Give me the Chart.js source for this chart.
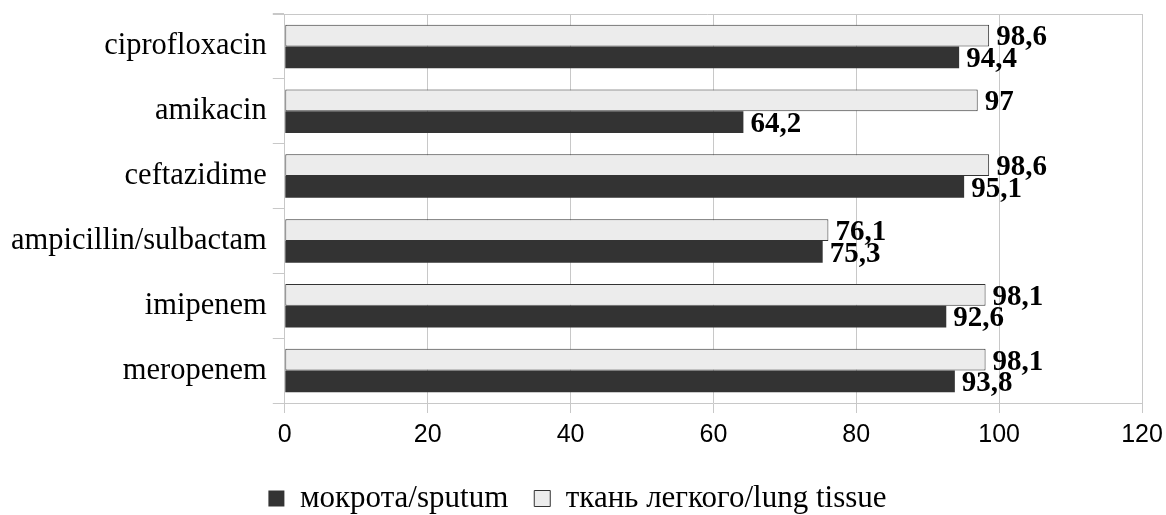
<!DOCTYPE html>
<html>
<head>
<meta charset="utf-8">
<script src="https://cdn.jsdelivr.net/npm/chart.js@4"></script>
<style>
  html, body { margin: 0; padding: 0; background: #fff; }
  #wrap { width: 1166px; height: 515px; }
</style>
</head>
<body>
<div id="wrap"><canvas id="chart" width="1166" height="515"></canvas></div>
<script>
const drugs = ['ciprofloxacin', 'amikacin', 'ceftazidime', 'ampicillin/sulbactam', 'imipenem', 'meropenem'];
const sputum = [94.4, 64.2, 95.1, 75.3, 92.6, 93.8];
const lungTissue = [98.6, 97, 98.6, 76.1, 98.1, 98.1];
const seriesNames = ['мокрота/sputum', 'ткань легкого/lung tissue'];
const xTicks = [0, 20, 40, 60, 80, 100, 120];

const gridGray = '#c8c8c8';
const serif = "'Liberation Serif', 'Times New Roman', serif";
const sans = "'Liberation Sans', Arial, sans-serif";

// value labels at the end of each bar, with comma decimals
const valueLabels = {
    id: 'valueLabels',
    afterDatasetsDraw(chart) {
        const ctx = chart.ctx;
        const size = 29;
        ctx.save();
        ctx.font = 'bold ' + size + 'px ' + serif;
        ctx.fillStyle = '#000';
        ctx.textAlign = 'left';
        ctx.textBaseline = 'alphabetic';
        chart.data.datasets.forEach((ds, i) => {
            chart.getDatasetMeta(i).data.forEach((bar, j) => {
                const txt = String(ds.data[j]).replace('.', ',');
                ctx.fillText(txt, bar.x + 7, bar.y + size * 0.34);
            });
        });
        ctx.restore();
    }
};

// top frame line (with the small tick sticking out left like the category ticks)
const topFrame = {
    id: 'topFrame',
    afterDraw(chart) {
        const a = chart.chartArea;
        const ctx = chart.ctx;
        ctx.save();
        ctx.strokeStyle = gridGray;
        ctx.lineWidth = 1;
        ctx.beginPath();
        ctx.moveTo(a.left - 12, a.top + 0.5);
        ctx.lineTo(a.right, a.top + 0.5);
        ctx.stroke();
        ctx.restore();
    }
};

new Chart(document.getElementById('chart'), {
    type: 'bar',
    data: {
        labels: drugs,
        datasets: [
            {
                label: seriesNames[1],
                data: lungTissue,
                backgroundColor: '#ececec',
                borderColor: '#333333',
                borderWidth: 1,
                borderSkipped: false,
                categoryPercentage: 0.67,
                barPercentage: 1
            },
            {
                label: seriesNames[0],
                data: sputum,
                backgroundColor: '#333333',
                borderColor: '#333333',
                borderWidth: 0,
                categoryPercentage: 0.67,
                barPercentage: 1
            }
        ]
    },
    options: {
        indexAxis: 'y',
        responsive: false,
        animation: false,
        layout: { padding: { left: 5, right: 16, top: 14, bottom: -9 } },
        scales: {
            x: {
                min: 0,
                max: 120,
                afterBuildTicks: (axis) => { axis.ticks = xTicks.map(v => ({ value: v })); },
                afterFit: (axis) => { axis.paddingRight = 24; },
                grid: { color: gridGray, tickLength: 10, tickColor: gridGray },
                border: { color: gridGray },
                ticks: { color: '#000', padding: 7, font: { family: sans, size: 25 } }
            },
            y: {
                afterFit: (axis) => { axis.paddingTop = 0; axis.paddingBottom = 0; },
                grid: { offset: true, drawOnChartArea: false, tickLength: 12, tickColor: gridGray },
                border: { color: gridGray },
                ticks: { color: '#000', padding: 6, font: { family: serif, size: 30.5 } }
            }
        },
        plugins: {
            legend: {
                position: 'bottom',
                reverse: true,
                labels: {
                    color: '#000',
                    boxWidth: 16,
                    boxHeight: 16,
                    padding: 26,
                    font: { family: serif, size: 31 }
                }
            },
            tooltip: { enabled: false }
        }
    },
    plugins: [valueLabels, topFrame]
});
</script>
</body>
</html>
